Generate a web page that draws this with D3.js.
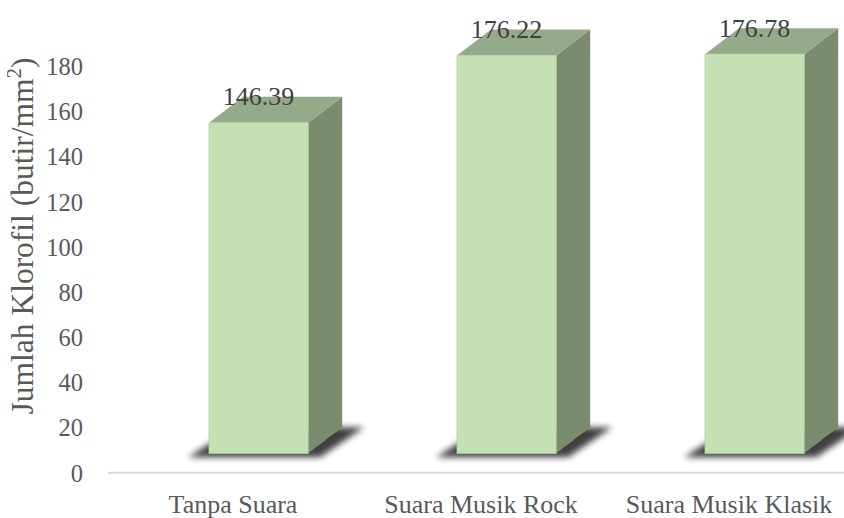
<!DOCTYPE html>
<html>
<head>
<meta charset="utf-8">
<script src="https://cdn.jsdelivr.net/npm/d3@7"></script>
<style>
  html, body { margin: 0; padding: 0; background: #fff; }
  svg { display: block; }
</style>
</head>
<body>
<svg id="chart" width="844" height="518"></svg>
<script>
const categories = ["Tanpa Suara", "Suara Musik Rock", "Suara Musik Klasik"];
const values = [146.39, 176.22, 176.78];
const tickValues = [0, 20, 40, 60, 80, 100, 120, 140, 160, 180];
const yTitle = "Jumlah Klorofil (butir/mm";

const svg = d3.select("#chart");
const font = "'Liberation Serif', 'Times New Roman', serif";

const y = d3.scaleLinear().domain([0, 180]).range([473, 66.6]);
const x = d3.scaleBand().domain(categories).range([109, 853]).paddingInner(0).paddingOuter(0);

// 3D geometry
const frontShiftY = -19.7;
const frontShiftX = -24;
const barW = x.bandwidth() * 0.4;
const depth = { dx: 34, dy: -26 };

const defs = svg.append("defs");
defs.append("filter").attr("id", "shadowBlur").attr("x", "-50%").attr("y", "-50%").attr("width", "200%").attr("height", "200%")
  .append("feGaussianBlur").attr("stdDeviation", 3);

// axis line (floor front edge)
svg.append("line")
  .attr("x1", 108).attr("x2", 844)
  .attr("y1", y(0) - 0.3).attr("y2", y(0) - 0.3)
  .attr("stroke", "#d9d9d9").attr("stroke-width", 2);

// y tick labels
svg.append("g").selectAll("text").data(tickValues).join("text")
  .attr("x", 83).attr("y", d => y(d))
  .attr("dy", "0.35em")
  .attr("text-anchor", "end")
  .attr("font-family", font).attr("font-size", 24.5)
  .attr("fill", "#595959")
  .text(d => d);

// y title
const t = svg.append("text")
  .attr("transform", "translate(33,236) rotate(-90)")
  .attr("text-anchor", "middle")
  .attr("font-family", font).attr("font-size", 31.5)
  .attr("fill", "#595959");
t.append("tspan").text(yTitle);
t.append("tspan").attr("font-size", 21).attr("dy", -12).text("2");
t.append("tspan").attr("dy", 12).text(")");

// category labels
svg.append("g").selectAll("text").data(categories).join("text")
  .attr("x", d => x(d) + x.bandwidth() / 2)
  .attr("y", 513)
  .attr("text-anchor", "middle")
  .attr("font-family", font).attr("font-size", 26)
  .attr("fill", "#595959")
  .text(d => d);

const bars = categories.map((c, i) => {
  const x0 = x(c) + x.bandwidth() / 2 + frontShiftX;
  const yb = y(0) + frontShiftY;
  const yt = y(values[i]) + frontShiftY;
  return { c, v: values[i], x0, x1: x0 + barW, yb, yt };
});

const pts = a => a.map(p => p.join(",")).join(" ");

// shadows
svg.append("g").selectAll("polygon").data(bars).join("polygon")
  .attr("points", b => pts([
    [b.x0 - 21, b.yb + 4], [b.x1 + 12, b.yb + 4],
    [b.x1 + depth.dx + 22, b.yb + depth.dy], [b.x0 + depth.dx - 8, b.yb + depth.dy]
  ]))
  .attr("fill", "#000").attr("opacity", 0.75)
  .attr("filter", "url(#shadowBlur)");

const g = svg.append("g");
// side face
g.selectAll("polygon.side").data(bars).join("polygon").attr("class", "side")
  .attr("points", b => pts([
    [b.x1, b.yb], [b.x1 + depth.dx, b.yb + depth.dy],
    [b.x1 + depth.dx, b.yt + depth.dy], [b.x1, b.yt]
  ]))
  .attr("fill", "#7b8c6e");
// top face
g.selectAll("polygon.top").data(bars).join("polygon").attr("class", "top")
  .attr("points", b => pts([
    [b.x0, b.yt], [b.x1, b.yt],
    [b.x1 + depth.dx, b.yt + depth.dy], [b.x0 + depth.dx, b.yt + depth.dy]
  ]))
  .attr("fill", "#95aa89");
// front face
g.selectAll("rect.front").data(bars).join("rect").attr("class", "front")
  .attr("x", b => b.x0).attr("y", b => b.yt)
  .attr("width", barW).attr("height", b => b.yb - b.yt)
  .attr("fill", "#c5e0b4")
  .attr("stroke", "#b8d3a7").attr("stroke-width", 0.8);

// data labels
svg.append("g").selectAll("text").data(bars).join("text")
  .attr("x", b => (b.x0 + b.x1) / 2)
  .attr("y", b => b.yt - 17.5)
  .attr("text-anchor", "middle")
  .attr("font-family", font).attr("font-size", 26)
  .attr("fill", "#404040")
  .text(b => b.v.toFixed(2));
</script>
</body>
</html>
